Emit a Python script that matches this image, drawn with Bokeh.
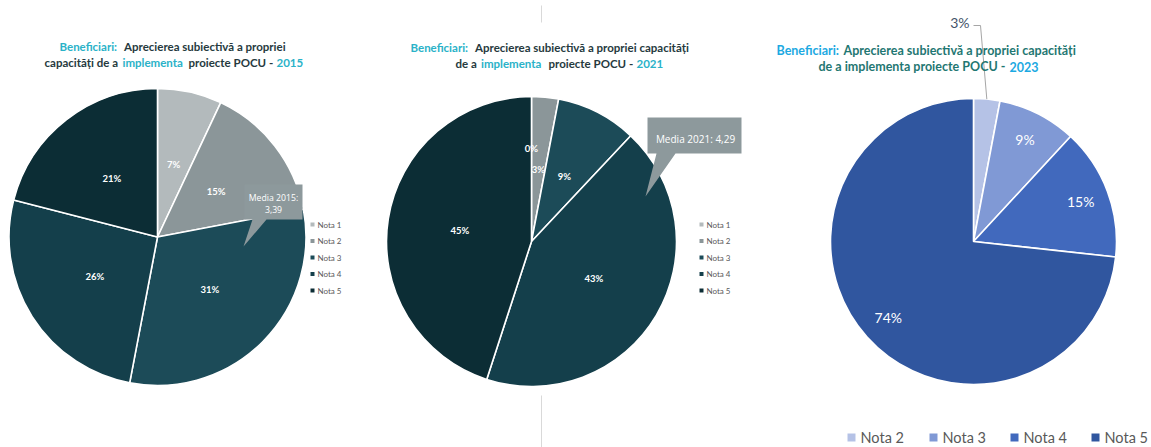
import math
from bokeh.plotting import figure
from bokeh.models import Range1d, ColumnDataSource
from bokeh.core.properties import value
from bokeh.embed import file_html
from bokeh.resources import INLINE

# ---------------- data ----------------
notas = ["Nota 1", "Nota 2", "Nota 3", "Nota 4", "Nota 5"]
values_2015 = [7, 15, 31, 26, 21]
values_2021 = [0, 3, 9, 43, 45]
notas_2023 = ["Nota 2", "Nota 3", "Nota 4", "Nota 5"]
values_2023 = [3, 9, 15, 74]
media_2015 = "3,39"
media_2021 = "4,29"

title_segments = {
    "2015": [["Beneficiari:", "Aprecierea subiectivă a propriei"],
             ["capacități de a", "implementa", "proiecte POCU -", "2015"]],
    "2021": [["Beneficiari:", "Aprecierea subiectivă a propriei capacități"],
             ["de a", "implementa", "proiecte POCU -", "2021"]],
    "2023": [["Beneficiari:", "Aprecierea subiectivă a propriei capacități"],
             ["de a implementa proiecte POCU -", "2023"]],
}

# ---------------- styles ----------------
W, H = 1151, 447
teal_colors = ["#b3babc", "#8b9699", "#1c4b58", "#143f4b", "#0c2d35"]
blue_colors = ["#b5c2e6", "#8099d5", "#4169bd", "#30569f"]
FONT = "Lato"


def Y(py):
    return H - py


p = figure(width=W, height=H, output_backend="svg", toolbar_location=None,
           x_range=Range1d(0, W), y_range=Range1d(0, H),
           x_axis_location=None, y_axis_location=None,
           min_border=0, outline_line_color=None, background_fill_color="white")
p.grid.visible = False


def draw_pie(cx, cy, r, vals, colors, rf, lsize, lstyle, skip_labels=(), zero_rf=None):
    total = float(sum(vals))
    cum = 0.0
    starts, ends, lx, ly, lt = [], [], [], [], []
    for i, v in enumerate(vals):
        a0 = cum / total
        cum += v
        a1 = cum / total
        starts.append(math.pi / 2 - 2 * math.pi * a1)
        ends.append(math.pi / 2 - 2 * math.pi * a0)
        if i in skip_labels:
            continue
        mid = (a0 + a1) / 2 * 2 * math.pi
        f = rf if (v > 0 or zero_rf is None) else zero_rf
        lx.append(cx + f * r * math.sin(mid))
        ly.append(Y(cy) + f * r * math.cos(mid))
        lt.append(f"{v}%")
    src = ColumnDataSource(dict(x=[cx] * len(vals), y=[Y(cy)] * len(vals),
                                s=starts, e=ends, c=colors[:len(vals)]))
    p.wedge(x="x", y="y", radius=r, start_angle="s", end_angle="e", direction="anticlock",
            fill_color="c", line_color="white", line_width=1.6, source=src)
    p.text(x=lx, y=ly, text=lt, text_color="white", text_font=value(FONT),
           text_font_size=lsize, text_font_style=lstyle,
           text_align="center", text_baseline="middle")
    return starts, ends


def draw_title(segs, xs, ys, colors, size):
    tx, ty, tt, tc = [], [], [], []
    for li, line in enumerate(segs):
        for si, s in enumerate(line):
            tx.append(xs[li][si]); ty.append(Y(ys[li])); tt.append(s); tc.append(colors[li][si])
    p.text(x=tx, y=ty, text=tt, text_color=tc, text_font=value(FONT), text_font_size=size,
           text_font_style="bold", text_align="left", text_baseline="middle")


def draw_side_legend(x, ys, labels, colors):
    p.rect(x=[x] * len(labels), y=[Y(v) for v in ys], width=4, height=4,
           fill_color=colors, line_color=None)
    p.text(x=[x + 5] * len(labels), y=[Y(v) for v in ys], text=labels, text_color="#595959",
           text_font=value(FONT), text_font_size="8px", text_align="left", text_baseline="middle")


# separator line
p.segment(x0=[541, 541], y0=[Y(5), Y(395)], x1=[541, 541], y1=[Y(22), Y(447)],
          line_color="#d9d9d9", line_width=1)

CY = "#2ab2c8"
DK = "#263a3e"

# ---------- Pie 2015 ----------
draw_pie(157, 236.5, 148.5, values_2015, teal_colors, 0.5, "9.5px", "bold")
draw_title(title_segments["2015"], [[59, 123.5], [44, 122, 188, 276]], [46, 62],
           [[CY, DK], [DK, CY, DK, CY]], "11.5px")
# callout
p.patch(x=[244, 302, 302, 266, 243, 252, 244],
        y=[Y(184), Y(184), Y(219), Y(219), Y(246), Y(219), Y(219)],
        fill_color="#8d999c", line_color=None)
p.text(x=[273, 273], y=[Y(197), Y(209)], text=["Media 2015:", media_2015], text_color="white",
       text_font=value("Open Sans"), text_font_size="8.7px", text_align="center", text_baseline="middle")
draw_side_legend(312, [224, 240.5, 257, 273.5, 290], notas, teal_colors)

# ---------- Pie 2021 ----------
draw_pie(531, 241, 145, values_2021, teal_colors, 0.5, "9.5px", "bold", zero_rf=0.64)
draw_title(title_segments["2021"], [[410, 474.5], [455, 480.5, 548, 636]], [47, 63],
           [[CY, DK], [DK, CY, DK, CY]], "11.5px")
p.patch(x=[647, 741, 741, 675, 645, 656, 647],
        y=[Y(117), Y(117), Y(153), Y(153), Y(196), Y(153), Y(153)],
        fill_color="#8d999c", line_color=None)
p.text(x=[695], y=[Y(138)], text=["Media 2021: " + media_2021], text_color="white",
       text_font=value("Open Sans"), text_font_size="10px", text_align="center", text_baseline="middle")
draw_side_legend(701, [224, 240.5, 257, 273.5, 290], notas, teal_colors)

# ---------- Pie 2023 ----------
cx3, cy3, r3 = 973, 241, 143
s3, e3 = draw_pie(cx3, cy3, r3, values_2023, blue_colors, 0.8, "14px", "normal", skip_labels=(0,))
# outside label for first slice with leader line
mid0 = (math.pi / 2 - (s3[0] + e3[0]) / 2)
ex = cx3 + r3 * math.sin(mid0)
ey = Y(cy3) + r3 * math.cos(mid0)
p.line(x=[ex, 980, 973], y=[ey, Y(25), Y(25)], line_color="#a6a6a6", line_width=1)
p.text(x=[969], y=[Y(22)], text=[f"{values_2023[0]}%"], text_color="#44546a",
       text_font=value(FONT), text_font_size="14px", text_align="right", text_baseline="middle")
BL = "#1ca9e2"
TL = "#1f7772"
draw_title(title_segments["2023"], [[776, 843], [818, 1009]], [50, 66],
           [[BL, TL], [TL, BL]], "12.5px")
# bottom legend
leg_x = [851, 933, 1014, 1095]
p.rect(x=leg_x, y=[Y(437)] * 4, width=8, height=8, fill_color=blue_colors, line_color=None)
p.text(x=[v + 9 for v in leg_x], y=[Y(437)] * 4, text=notas_2023, text_color="#595959",
       text_font=value(FONT), text_font_size="14.5px", text_align="left", text_baseline="middle")

open("out.html", "w").write(file_html(p, INLINE))
